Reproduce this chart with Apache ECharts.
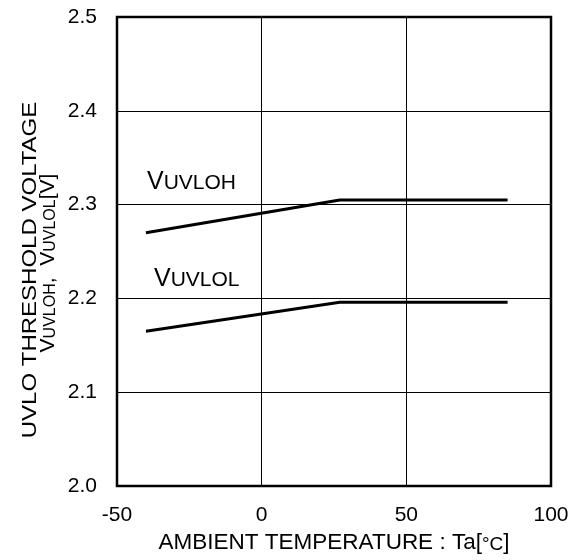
<!DOCTYPE html>
<html>
<head>
<meta charset="utf-8">
<script src="https://cdn.jsdelivr.net/npm/echarts@6/dist/echarts.min.js"></script>
<style>
html,body{margin:0;padding:0;background:#fff;}
#c{width:574px;height:560px;}
</style>
</head>
<body>
<div id="c"></div>
<script>
// data
var temps = [-40, 27, 85];
var vuvloh = [2.27, 2.305, 2.305];
var vuvlol = [2.165, 2.196, 2.196];
var xTicks = [-50, 0, 50, 100];
var yTicks = [2.0, 2.1, 2.2, 2.3, 2.4, 2.5];

var FONT = 'Liberation Sans';
var chart = echarts.init(document.getElementById('c'));

function pairs(xs, ys) { return xs.map(function (x, i) { return [x, ys[i]]; }); }

chart.setOption({
  backgroundColor: '#fff',
  animation: false,
  grid: { left: 117, right: 23, top: 17, bottom: 74, show: true, borderColor: '#000', borderWidth: 2.5, backgroundColor: 'transparent' },
  xAxis: {
    type: 'value', min: xTicks[0], max: xTicks[xTicks.length - 1], interval: 50,
    axisLine: { show: false }, axisTick: { show: false },
    splitLine: { show: true, lineStyle: { color: '#000', width: 1 } },
    axisLabel: { color: '#000', fontFamily: FONT, fontSize: 21, margin: 19 },
    name: 'AMBIENT TEMPERATURE : Ta[{deg|°C}]',
    nameLocation: 'middle', nameGap: 41,
    nameTextStyle: {
      color: '#000', fontFamily: FONT, fontSize: 22.5,
      rich: { deg: { fontFamily: FONT, fontSize: 19, color: '#000', verticalAlign: 'bottom', padding: [4, 0, 0, 0] } }
    }
  },
  yAxis: {
    type: 'value', min: yTicks[0], max: yTicks[yTicks.length - 1], interval: 0.1,
    axisLine: { show: false }, axisTick: { show: false },
    splitLine: { show: true, lineStyle: { color: '#000', width: 1 } },
    axisLabel: { color: '#000', fontFamily: FONT, fontSize: 21, margin: 20,
      formatter: function (v) { return v.toFixed(1); } }
  },
  series: [
    { type: 'line', data: pairs(temps, vuvloh), symbol: 'none', lineStyle: { color: '#000', width: 3 }, z: 5 },
    { type: 'line', data: pairs(temps, vuvlol), symbol: 'none', lineStyle: { color: '#000', width: 3 }, z: 5 }
  ],
  graphic: [
    { type: 'text', x: 147, y: 195, style: {
        text: '{b|V}{s|UVLOH}', fill: '#000', align: 'left', verticalAlign: 'bottom',
        rich: { b: { fontFamily: FONT, fontSize: 25, verticalAlign: 'bottom' }, s: { fontFamily: FONT, fontSize: 21, verticalAlign: 'bottom', padding: [0, 0, 1, 0] } }
    } },
    { type: 'text', x: 154, y: 292, style: {
        text: '{b|V}{s|UVLOL}', fill: '#000', align: 'left', verticalAlign: 'bottom',
        rich: { b: { fontFamily: FONT, fontSize: 25, verticalAlign: 'bottom' }, s: { fontFamily: FONT, fontSize: 21, verticalAlign: 'bottom', padding: [0, 0, 1, 0] } }
    } },
    { type: 'text', x: 30, y: 270, rotation: Math.PI / 2, scaleX: 1.2, style: {
        text: 'UVLO THRESHOLD VOLTAGE', fill: '#000', fontFamily: FONT, fontSize: 20, align: 'center', verticalAlign: 'middle'
    } },
    { type: 'text', x: 48, y: 263, rotation: Math.PI / 2, style: {
        text: '{b|V}{s|UVLOH}{b|,  V}{s|UVLOL}{b|[V]}', fill: '#000', align: 'center', verticalAlign: 'middle',
        rich: { b: { fontFamily: FONT, fontSize: 21, verticalAlign: 'bottom' }, s: { fontFamily: FONT, fontSize: 16, verticalAlign: 'bottom' } }
    } }
  ]
});
</script>
</body>
</html>
